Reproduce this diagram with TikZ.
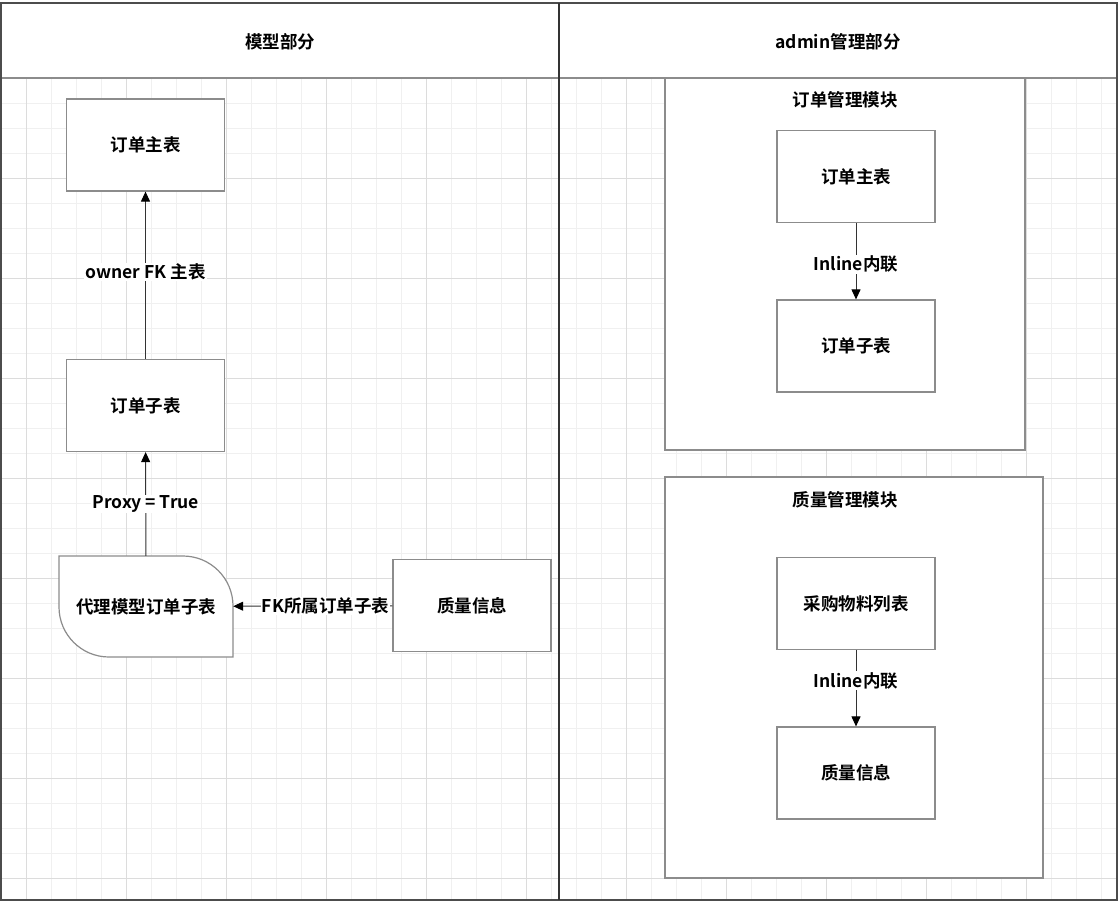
\documentclass[tikz,border=0pt]{standalone}
\usepackage{fontspec}
\setmainfont{Noto Sans CJK SC}[BoldFont={* Bold}]
\usetikzlibrary{arrows.meta}
\definecolor{gridminor}{HTML}{F0F0F0}
\definecolor{gridmajor}{HTML}{DCDCDC}
\definecolor{boxline}{HTML}{8C8C8C}
\tikzset{
  minorgrid/.style={draw=gridminor, line width=1pt},
  majorgrid/.style={draw=gridmajor, line width=1pt},
  box/.style={draw=boxline, fill=white, line width=1.2pt, minimum width=158pt, minimum height=92pt, inner sep=0pt, font=\fontsize{17.5}{20}\selectfont\bfseries},
  container/.style={draw=boxline, fill=white, line width=1.2pt},
  title/.style={font=\fontsize{17.5}{20}\selectfont\bfseries, inner sep=1pt},
  lbl/.style={fill=white, font=\fontsize{17.5}{20}\selectfont\bfseries, inner sep=1pt},
  conn/.style={draw=black!80, line width=1pt, -{Triangle[length=10pt,width=9pt,color=black]}},
}
\begin{document}
\begin{tikzpicture}[x=1pt,y=-1pt]
\useasboundingbox (0,0) rectangle (1118,902);
% grid
\foreach \x in {26,51,...,1101} \draw[minorgrid] (\x,78) -- (\x,900);
\foreach \y in {103,128,...,878} \draw[minorgrid] (1,\y) -- (1117,\y);
\foreach \x in {26,126,...,1026} \draw[majorgrid] (\x,78) -- (\x,900);
\foreach \y in {178,278,...,878} \draw[majorgrid] (1,\y) -- (1117,\y);
% header
\draw[draw=boxline, fill=white, line width=1.5pt] (1,3) rectangle (1117,78);
\node[title] (hl) at (280,42) {模型部分};
\node[title] (hr) at (838,42) {admin管理部分};
% outer frame and divider
\draw[draw=black!70, line width=1.5pt] (1,3) rectangle (1117,900);
\draw[draw=black!80, line width=1.2pt] (559,3) -- (559,900);
% left part
\node[box] (lmain) at (145.5,145) {订单主表};
\node[box] (lsub) at (145.5,405.5) {订单子表};
\draw[draw=boxline, fill=white, line width=1.2pt]
  (59,556) -- (183,556) .. controls (210.6,556) and (233,578.4) .. (233,606)
  -- (233,657) -- (109,657) .. controls (81.4,657) and (59,634.6) .. (59,607) -- cycle;
\node[minimum width=174pt, minimum height=101pt, inner sep=0pt, font=\fontsize{17.5}{20}\selectfont\bfseries] (proxy) at (146,606.5) {代理模型订单子表};
\node[box] (lqual) at (472,605.5) {质量信息};
\draw[conn] (lsub) -- node[lbl, pos=0.52] {owner FK 主表} (lmain);
\draw[conn] (proxy) -- node[lbl] {Proxy = True} (lsub);
\draw[conn] (lqual) -- node[lbl, pos=0.42] {FK所属订单子表} (proxy);
% right part
\draw[container] (665,78) rectangle (1025,450);
\node[title] (t1) at (845,100) {订单管理模块};
\node[box] (rmain) at (856,176.5) {订单主表};
\node[box] (rsub) at (856,346) {订单子表};
\draw[conn] (rmain) -- node[lbl, pos=0.54] {Inline内联} (rsub);
\draw[container] (665,477) rectangle (1043,878);
\node[title] (t2) at (845,500) {质量管理模块};
\node[box] (rbuy) at (856,603.5) {采购物料列表};
\node[box] (rqual) at (856,773) {质量信息};
\draw[conn] (rbuy) -- node[lbl, pos=0.4] {Inline内联} (rqual);
\end{tikzpicture}
\end{document}
